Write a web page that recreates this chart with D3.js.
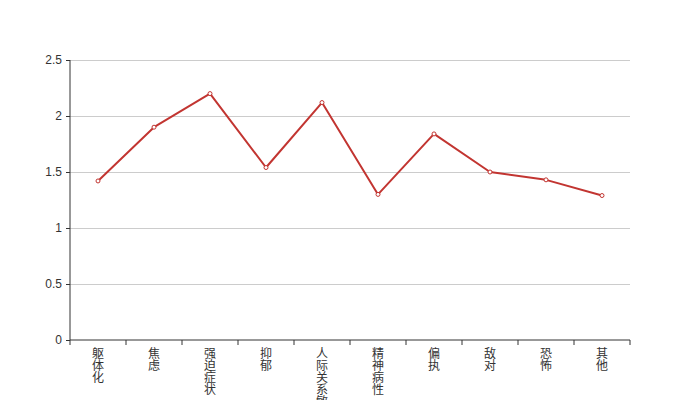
<!DOCTYPE html>
<meta charset="utf-8">
<title>factor scores</title>
<style>
  body { margin: 0; background: #fff; }
  svg { display: block; font-family: "Noto Sans CJK SC", "Noto Sans", sans-serif; }
  .grid line { stroke: #ccc; }
  .grid path { display: none; }
</style>
<body>
<script src="https://cdn.jsdelivr.net/npm/d3@7"></script>
<script>

// data
var categories = ["躯体化", "焦虑", "强迫症状", "抑郁", "人际关系敏感", "精神病性", "偏执", "敌对", "恐怖", "其他"];
var scores = [1.42, 1.90, 2.20, 1.54, 2.12, 1.30, 1.84, 1.50, 1.43, 1.29];
var yTicks = [0, 0.5, 1, 1.5, 2, 2.5];

var margin = {top: 60, right: 70, bottom: 60, left: 70};
var width = 700 - margin.left - margin.right;
var height = 400 - margin.top - margin.bottom;

var x = d3.scaleBand().domain(categories).range([0, width]);
var y = d3.scaleLinear().domain([0, 2.5]).range([height, 0]);

var svg = d3.select("body").append("svg")
    .attr("width", 700)
    .attr("height", 400)
  .append("g")
    .attr("transform", "translate(" + margin.left + "," + margin.top + ")");

// horizontal grid
svg.append("g")
    .attr("class", "grid")
    .call(d3.axisLeft(y).tickValues(yTicks.filter(function(d) { return d > 0; })).tickSize(-width).tickFormat(""))
    .call(function(g) { g.selectAll("line").attr("x1", 0); });

// y axis
var yAxis = svg.append("g")
    .call(d3.axisLeft(y).tickValues(yTicks).tickSize(4).tickPadding(4).tickFormat(d3.format("")));
yAxis.select(".domain").attr("stroke", "#333").attr("d", "M0," + height + "V0");
yAxis.selectAll(".tick line").attr("stroke", "#333");
yAxis.selectAll("text").attr("fill", "#333").style("font-size", "12px");

// x axis
var xAxis = svg.append("g")
    .attr("transform", "translate(0," + height + ")")
    .call(d3.axisBottom(x).tickSize(0).tickFormat(""));
xAxis.select(".domain").attr("stroke", "#333").attr("d", "M0,0H" + width);

// band boundary ticks
xAxis.selectAll(".bt")
    .data(d3.range(categories.length + 1))
    .enter().append("line")
    .attr("class", "bt")
    .attr("x1", function(i) { return i * x.step(); })
    .attr("x2", function(i) { return i * x.step(); })
    .attr("y1", 0)
    .attr("y2", 5)
    .attr("stroke", "#333");

// vertical labels, one character per line
var lab = svg.append("g").selectAll("text")
    .data(categories)
    .enter().append("text")
    .attr("x", function(d) { return x(d) + x.bandwidth() / 2; })
    .attr("y", height + 18)
    .attr("text-anchor", "middle")
    .attr("fill", "#333")
    .style("font-size", "12px");

lab.each(function(d) {
  var t = d3.select(this);
  d.split("").forEach(function(c, i) {
    t.append("tspan")
      .attr("x", x(d) + x.bandwidth() / 2)
      .attr("dy", i === 0 ? 0 : 12)
      .text(c);
  });
});

// line
var line = d3.line()
    .x(function(d, i) { return x(categories[i]) + x.bandwidth() / 2; })
    .y(function(d) { return y(d); });

svg.append("path")
    .datum(scores)
    .attr("fill", "none")
    .attr("stroke", "#c23531")
    .attr("stroke-width", 2)
    .attr("stroke-linejoin", "bevel")
    .attr("d", line);

svg.selectAll(".pt")
    .data(scores)
    .enter().append("circle")
    .attr("class", "pt")
    .attr("cx", function(d, i) { return x(categories[i]) + x.bandwidth() / 2; })
    .attr("cy", function(d) { return y(d); })
    .attr("r", 2)
    .attr("fill", "#fff")
    .attr("stroke", "#c23531")
    .attr("stroke-width", 1);

</script>
</body>
